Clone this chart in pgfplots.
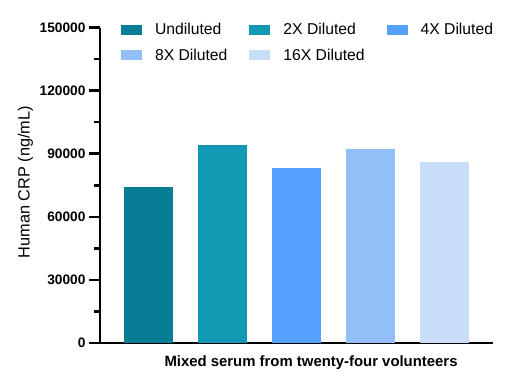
\documentclass[border=0pt]{standalone}
\usepackage{pgfplots}
\pgfplotsset{compat=1.18}
\usepackage{fontspec}
\setmainfont{Liberation Sans}
\definecolor{cU}{HTML}{087E96}
\definecolor{c2}{HTML}{1199B4}
\definecolor{c4}{HTML}{56A1FC}
\definecolor{c8}{HTML}{93BFF8}
\definecolor{c16}{HTML}{C8DDF7}
\begin{document}
\begin{tikzpicture}
\begin{axis}[
  scale only axis,
  width=393pt, height=315.5pt,
  xmin=-0.655, xmax=4.655,
  ymin=0, ymax=150000,
  axis x line=bottom, axis y line=left,
  axis line style={line width=2.6pt, -},
  xtick=\empty,
  ytick={0,30000,60000,90000,120000,150000},
  yticklabels={0,30000,60000,90000,120000,150000},
  minor y tick num=1,
  scaled y ticks=false,
  tick align=outside,
  major tick length=11pt, minor tick length=6pt,
  tick style={line width=2.6pt, black},
  yticklabel style={font=\bfseries\fontsize{13.7}{15}\selectfont},
  ylabel={Human CRP (ng/mL)},
  ylabel style={at={(axis description cs:-0.19,0.51)}, anchor=center, font=\fontsize{16.3}{18}\selectfont},
  xlabel={Mixed serum from twenty-four volunteers},
  xlabel style={at={(axis description cs:0.537,-0.062)}, anchor=center, font=\bfseries\fontsize{14.9}{16}\selectfont},
  legend columns=3,
  legend image code/.code={\fill[#1] (0pt,-5pt) rectangle (21pt,5pt);},
  legend style={at={(axis description cs:0.053,1.021)}, anchor=north west, draw=none, fill=none,
    inner xsep=0pt, inner ysep=0pt, column sep=9pt, row sep=9pt,
    font=\fontsize{15.7}{17}\selectfont,
    nodes={inner xsep=4pt},
    /tikz/every even column/.append style={column sep=18pt}},
  legend cell align=left,
]
\coordinate (o) at (rel axis cs:0,0);
\addplot[ybar, bar shift=0pt, bar width=0.66, fill=cU, draw=none] coordinates {(0,74000)};
\addlegendentry{Undiluted}
\addplot[ybar, bar shift=0pt, bar width=0.66, fill=c2, draw=none] coordinates {(1,94000)};
\addlegendentry{2X Diluted}
\addplot[ybar, bar shift=0pt, bar width=0.66, fill=c4, draw=none] coordinates {(2,83000)};
\addlegendentry{4X Diluted}
\addplot[ybar, bar shift=0pt, bar width=0.66, fill=c8, draw=none] coordinates {(3,92000)};
\addlegendentry{8X Diluted}
\addplot[ybar, bar shift=0pt, bar width=0.66, fill=c16, draw=none] coordinates {(4,86000)};
\addlegendentry{16X Diluted}
\end{axis}
\pgfresetboundingbox
\path ([shift={(-100pt,-41pt)}]o) rectangle ([shift={(406pt,343pt)}]o);
\end{tikzpicture}
\end{document}
